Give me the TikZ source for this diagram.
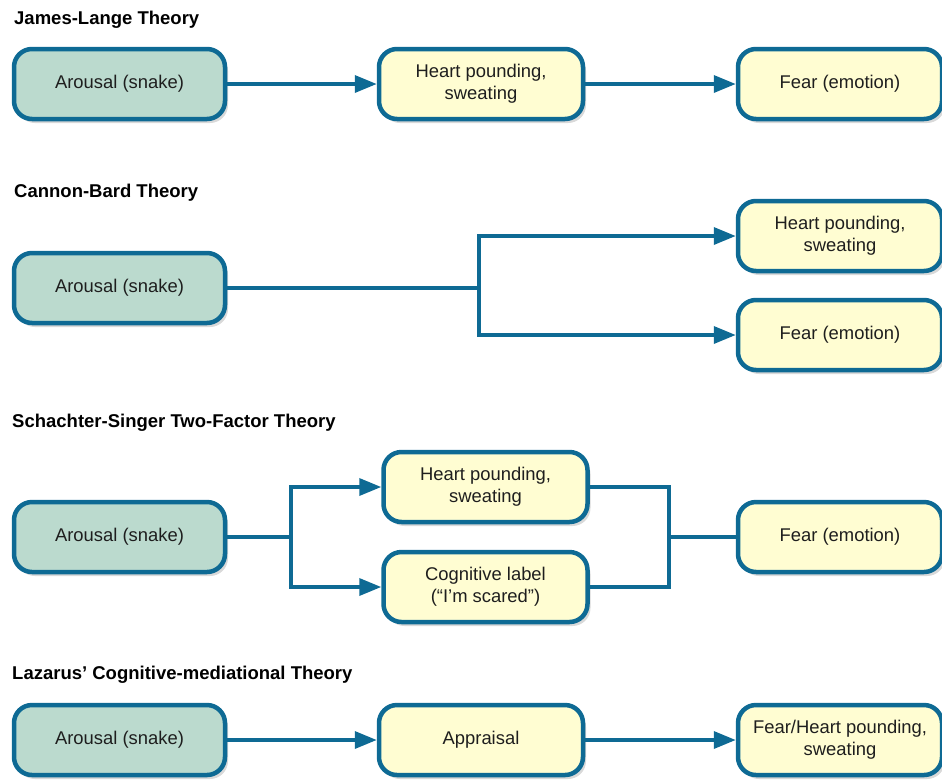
\documentclass[tikz,border=0pt]{standalone}
\usepackage{fontspec}
\setmainfont{Liberation Sans}
\usetikzlibrary{arrows.meta,shadows}
\definecolor{edgeblue}{HTML}{0E6A94}
\definecolor{tealfill}{HTML}{BBDACE}
\definecolor{yelfill}{HTML}{FFFDD2}
\definecolor{txt}{HTML}{1E1E1E}
\begin{document}
\begin{tikzpicture}[x=1pt,y=-1pt,
  box/.style={draw=edgeblue, line width=4.5pt, rounded corners=18pt,
    minimum height=70pt, align=center, text=txt,
    font=\fontsize{18.4}{22}\selectfont,
    drop shadow={opacity=0.3, shadow xshift=3pt, shadow yshift=-4pt}},
  tealbox/.style={box, fill=tealfill, minimum width=211pt},
  yelbox/.style={box, fill=yelfill, minimum width=204pt},
  title/.style={anchor=west, font=\bfseries\fontsize{18.5}{22}\selectfont, text=black, inner sep=0pt},
  conn/.style={draw=edgeblue, line width=3.5pt},
  arr/.style={conn, -{Triangle[length=22pt,width=17pt]}}
]
\useasboundingbox (0,0) rectangle (942,780);
% James-Lange
\node[title] (t1) at (14,20) {James-Lange Theory};
\node[tealbox] (a1) at (119.5,84) {Arousal (snake)};
\node[yelbox] (h1) at (481,84) {Heart pounding,\\sweating};
\node[yelbox] (f1) at (840,84) {Fear (emotion)};
\draw[arr] (a1.east) -- (h1.west);
\draw[arr] (h1.east) -- (f1.west);
% Cannon-Bard
\node[title] (t2) at (14,193) {Cannon-Bard Theory};
\node[tealbox] (a2) at (119.5,288) {Arousal (snake)};
\node[yelbox] (h2) at (840,236) {Heart pounding,\\sweating};
\node[yelbox] (f2) at (840,335) {Fear (emotion)};
\coordinate (b2) at (479,288);
\draw[conn] (a2.east) -- (b2);
\draw[arr] (b2) |- (h2.west);
\draw[arr] (b2) |- (f2.west);
% Schachter-Singer
\node[title] (t3) at (12,423) {Schachter-Singer Two-Factor Theory};
\node[tealbox] (a3) at (119.5,537) {Arousal (snake)};
\node[yelbox] (h3) at (485.5,487) {Heart pounding,\\sweating};
\node[yelbox] (c3) at (485.5,587) {Cognitive label\\(“I’m scared”)};
\node[yelbox] (f3) at (840,537) {Fear (emotion)};
\coordinate (b3) at (291,537);
\coordinate (m3) at (669,537);
\draw[conn] (a3.east) -- (b3);
\draw[arr] (b3) |- (h3.west);
\draw[arr] (b3) |- (c3.west);
\draw[conn] (h3.east) -| (m3);
\draw[conn] (c3.east) -| (m3);
\draw[conn] (m3) -- (f3.west);
% Lazarus
\node[title] (t4) at (12,675) {Lazarus’ Cognitive-mediational Theory};
\node[tealbox] (a4) at (119.5,740) {Arousal (snake)};
\node[yelbox] (p4) at (481,740) {Appraisal};
\node[yelbox] (f4) at (840,740) {Fear/Heart pounding,\\sweating};
\draw[arr] (a4.east) -- (p4.west);
\draw[arr] (p4.east) -- (f4.west);
\end{tikzpicture}
\end{document}
